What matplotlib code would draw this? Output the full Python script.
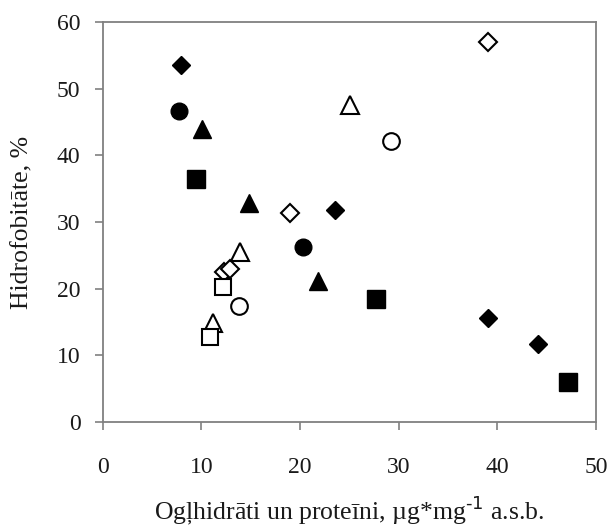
import matplotlib.pyplot as plt

plt.rcParams['font.family'] = ['Liberation Serif', 'DejaVu Serif']

# carbohydrates + proteins (x) vs hydrophobicity (y), one list pair per marker style
fdiam_x = [7.9, 23.6, 39.1, 44.1]
fdiam_y = [53.5, 31.8, 15.6, 11.7]
fcirc_x = [7.7, 20.3]
fcirc_y = [46.6, 26.2]
ftri_x = [10.1, 14.8, 21.8]
ftri_y = [44.0, 32.8, 21.2]
fsq_x = [9.5, 27.7, 47.2]
fsq_y = [36.4, 18.5, 6.0]
odiam_x = [39.1, 19.0, 12.3, 12.95]
odiam_y = [57.0, 31.3, 22.5, 23.0]
otri_x = [25.1, 13.9, 11.2]
otri_y = [47.6, 25.5, 14.9]
ocirc_x = [29.2, 13.8]
ocirc_y = [42.1, 17.4]
osq_x = [12.2, 10.9]
osq_y = [20.3, 12.7]

fig = plt.figure(figsize=(6.08, 5.28), dpi=100)
ax = fig.add_axes([0.169, 0.201, 0.811, 0.757])

ax.plot(fdiam_x, fdiam_y, 'D', color='black', ms=9.5, ls='none')
ax.plot(fcirc_x, fcirc_y, 'o', color='black', ms=12, ls='none')
ax.plot(ftri_x, ftri_y, '^', color='black', ms=13, ls='none')
ax.plot(fsq_x, fsq_y, 's', color='black', ms=12.5, ls='none')
ax.plot(odiam_x, odiam_y, 'D', mfc='white', mec='black', mew=1.5, ms=9.5, ls='none')
ax.plot(otri_x, otri_y, '^', mfc='white', mec='black', mew=1.5, ms=13, ls='none')
ax.plot(ocirc_x, ocirc_y, 'o', mfc='white', mec='black', mew=1.5, ms=12, ls='none')
ax.plot(osq_x, osq_y, 's', mfc='white', mec='black', mew=1.5, ms=12, ls='none')

ax.set_xlim(0, 50)
ax.set_ylim(0, 60)
ax.set_xticks(range(0, 51, 10))
ax.set_yticks(range(0, 61, 10))

for s in ax.spines.values():
    s.set_color('#808080')
    s.set_linewidth(1.3)
ax.tick_params(direction='out', length=6, width=1.2, color='#808080',
               labelsize=17, labelcolor='#1a1a1a')
ax.tick_params(axis='x', pad=19)
ax.tick_params(axis='y', pad=10)

ax.set_ylabel('Hidrofobitāte, %', fontsize=18.5, color='#1a1a1a')
ax.yaxis.set_label_coords(-0.162, 0.5)
ax.yaxis.label.set_va('center')

ax.set_xlabel('Ogļhidrāti un proteīni, µg*mg$^{\\text{-1}}$ a.s.b.',
              fontsize=18.5, color='#1a1a1a')
ax.xaxis.set_label_coords(0.5, -0.245)
ax.xaxis.label.set_va('baseline')

fig.savefig('out.png', dpi=100)
